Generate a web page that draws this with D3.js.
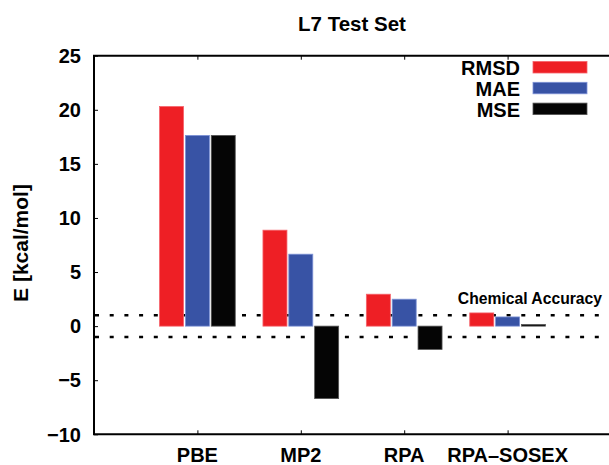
<!DOCTYPE html>
<html>
<head>
<meta charset="utf-8">
<script src="https://cdn.jsdelivr.net/npm/d3@7"></script>
<style>
  html, body { margin: 0; padding: 0; background: #fff; }
  svg { display: block; font-family: "Liberation Sans", Arial, Helvetica, sans-serif; font-weight: bold; }
</style>
</head>
<body>
<svg id="chart" width="609" height="465"></svg>
<script>
// L7 benchmark: error statistics per method (kcal/mol)
const methods = ["PBE", "MP2", "RPA", "RPA–SOSEX"];
const seriesNames = ["RMSD", "MAE", "MSE"];
const rmsd = [20.3, 8.87, 2.95, 1.22];
const mae  = [17.63, 6.65, 2.49, 0.85];
const mse  = [17.63, -6.7, -2.15, 0.15];
const seriesColors = ["#ee1f25", "#3853a5", "#050505"];
const seriesStrokes = ["#f5626a", "#7d92d6", "#555555"];
const yTicks = [-10, -5, 0, 5, 10, 15, 20, 25];
const chemAccuracy = [1, -1];

const series = [rmsd, mae, mse];

const svg = d3.select("#chart");
const x = d3.scaleLinear().domain([0, 5]).range([94, 611]);
const y = d3.scaleLinear().domain([-10, 25]).range([434.3, 55.7]);

// chemical accuracy band (dotted lines at +/- 1 kcal/mol), behind the bars
svg.append("g").selectAll("line")
  .data(chemAccuracy)
  .join("line")
  .attr("x1", x(0) + 1).attr("x2", 609)
  .attr("y1", d => y(d)).attr("y2", d => y(d))
  .attr("stroke", "#000").attr("stroke-width", 2.4)
  .attr("stroke-dasharray", "4,10.7");

// bars
const barW = 0.232, barStep = 0.25;
series.forEach((vals, j) => {
  svg.append("g").selectAll("rect")
    .data(vals)
    .join("rect")
    .attr("x", (d, i) => x(i + 1 + (j - 1) * barStep - barW / 2))
    .attr("width", x(barW) - x(0))
    .attr("y", d => y(Math.max(0, d)))
    .attr("height", d => Math.abs(y(d) - y(0)))
    .attr("fill", seriesColors[j])
    .attr("stroke", seriesStrokes[j])
    .attr("stroke-width", 0.8);
});

// frame: left, top, bottom (right edge lies beyond the canvas)
const frame = svg.append("g").attr("fill", "none").attr("stroke", "#000").attr("stroke-width", 2);
frame.append("path")
  .attr("d", `M${x(5)},${y(25)} H${x(0)} V${y(-10)} H${x(5)}`);

// y axis ticks and labels
const yAxis = svg.append("g")
  .attr("transform", `translate(${x(0)},0)`)
  .call(d3.axisRight(y).tickValues(yTicks).tickSize(4).tickFormat(""));
yAxis.select(".domain").remove();
yAxis.selectAll("line").attr("stroke", "#000").attr("stroke-width", 1);

svg.append("g").selectAll("text")
  .data(yTicks)
  .join("text")
  .attr("x", 81)
  .attr("y", d => y(d))
  .attr("dy", "0.36em")
  .attr("text-anchor", "end")
  .attr("font-size", 20)
  .text(d => d < 0 ? "−" + Math.abs(d) : d);

// x axis ticks (bottom and top) and category labels
const catTicks = methods.map((m, i) => i + 1);
const xb = svg.append("g")
  .attr("transform", `translate(0,${y(-10)})`)
  .call(d3.axisTop(x).tickValues(catTicks).tickSize(4).tickFormat(""));
xb.select(".domain").remove();
xb.selectAll("line").attr("stroke", "#000").attr("stroke-width", 1);
const xt = svg.append("g")
  .attr("transform", `translate(0,${y(25)})`)
  .call(d3.axisBottom(x).tickValues(catTicks).tickSize(4).tickFormat(""));
xt.select(".domain").remove();
xt.selectAll("line").attr("stroke", "#000").attr("stroke-width", 1);

svg.append("g").selectAll("text")
  .data(methods)
  .join("text")
  .attr("x", (d, i) => x(i + 1))
  .attr("y", 461.5)
  .attr("text-anchor", "middle")
  .attr("font-size", 20)
  .text(d => d);

// title
svg.append("text")
  .attr("x", 352).attr("y", 31)
  .attr("text-anchor", "middle")
  .attr("font-size", 20.5)
  .text("L7 Test Set");

// y axis title
svg.append("text")
  .attr("transform", "translate(28,243) rotate(-90)")
  .attr("text-anchor", "middle")
  .attr("font-size", 21)
  .text("E [kcal/mol]");

// chemical accuracy label
svg.append("text")
  .attr("x", 602).attr("y", 304)
  .attr("text-anchor", "end")
  .attr("font-size", 15.7)
  .text("Chemical Accuracy");

// legend
const legend = svg.append("g").selectAll("g")
  .data(seriesNames)
  .join("g")
  .attr("transform", (d, i) => `translate(0,${75 + i * 20.8})`);
legend.append("text")
  .attr("x", 520).attr("y", 0)
  .attr("text-anchor", "end")
  .attr("font-size", 20)
  .text(d => d);
legend.append("rect")
  .attr("x", 533).attr("y", -13.5)
  .attr("width", 54).attr("height", 11.5)
  .attr("fill", (d, i) => seriesColors[i])
  .attr("stroke", (d, i) => seriesStrokes[i])
  .attr("stroke-width", 0.8);
</script>
</body>
</html>
